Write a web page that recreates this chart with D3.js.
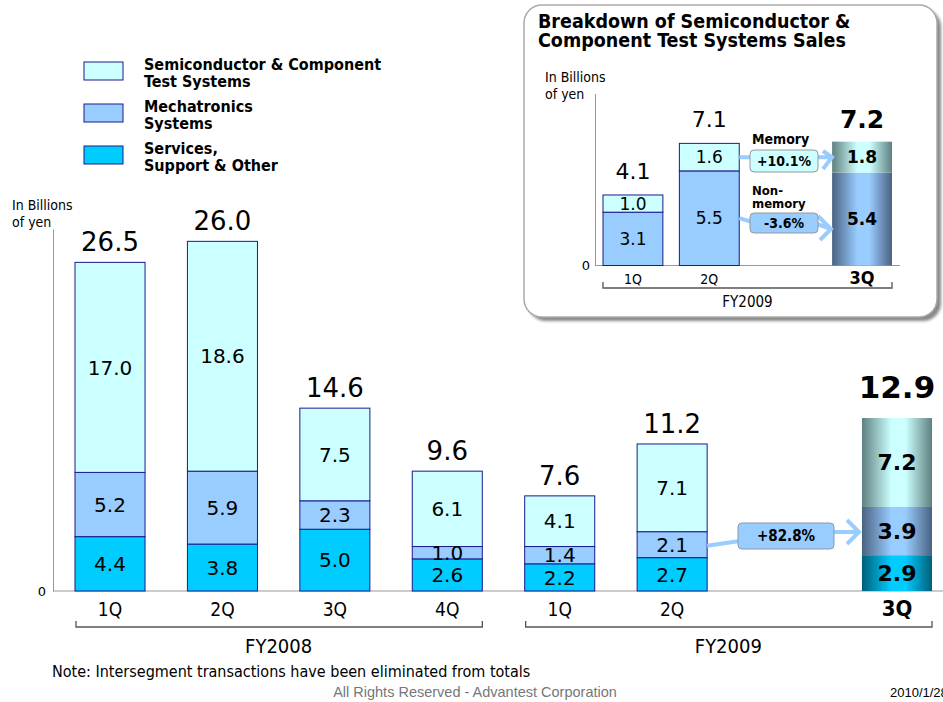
<!DOCTYPE html>
<meta charset="utf-8">
<style>
body { margin: 0; background: #fff; }
svg { display: block; }
text { font-family: "DejaVu Sans", sans-serif; fill: #000; }
.cond { font-family: "DejaVu Sans Condensed", "DejaVu Sans", sans-serif; font-stretch: condensed; }
.axis .domain { stroke: #999; }
</style>
<svg width="943" height="702"></svg>
<script src="https://d3js.org/d3.v7.min.js"></script>
<script>

// main chart data (billions of yen)
var quarters = ["FY08 1Q", "FY08 2Q", "FY08 3Q", "FY08 4Q", "FY09 1Q", "FY09 2Q", "gap", "FY09 3Q"];
var qLabels  = ["1Q", "2Q", "3Q", "4Q", "1Q", "2Q", "", "3Q"];
var services = [4.4, 3.8, 5.0, 2.6, 2.2, 2.7, null, 2.9];
var mecha    = [5.2, 5.9, 2.3, 1.0, 1.4, 2.1, null, 3.9];
var semi     = [17.0, 18.6, 7.5, 6.1, 4.1, 7.1, null, 7.2];
var totals   = [26.5, 26.0, 14.6, 9.6, 7.6, 11.2, null, 12.9];
var growth   = "+82.8%";

// inset data
var insetQ      = ["1Q", "2Q", "gap", "3Q"];
var nonMemory   = [3.1, 5.5, null, 5.4];
var memory      = [1.0, 1.6, null, 1.8];
var insetTotals = [4.1, 7.1, null, 7.2];
var memGrowth = "+10.1%", nonMemGrowth = "-3.6%";

var keys = ["services", "mecha", "semi"];
var fills = {services: "#00ccff", mecha: "#99ccff", semi: "#ccffff"};
var edges = {services: "#005f78", mecha: "#4a6282", semi: "#5f8080"};
var stroke = "#1a1a8c";

var svg = d3.select("svg");
var defs = svg.append("defs");
keys.forEach(function(k) {
  var g = defs.append("linearGradient").attr("id", "grad-" + k);
  g.append("stop").attr("offset", "0%").attr("stop-color", edges[k]);
  g.append("stop").attr("offset", "42%").attr("stop-color", fills[k]);
  g.append("stop").attr("offset", "62%").attr("stop-color", fills[k]);
  g.append("stop").attr("offset", "100%").attr("stop-color", edges[k]);
});
var shadow = defs.append("filter").attr("id", "blur").attr("x", "-5%").attr("y", "-5%").attr("width", "110%").attr("height", "110%");
shadow.append("feGaussianBlur").attr("stdDeviation", 1.5);

var rows = quarters.map(function(q, i) {
  return {q: q, label: qLabels[i], services: services[i] || 0, mecha: mecha[i] || 0, semi: semi[i] || 0, total: totals[i], last: q == "FY09 3Q"};
}).filter(function(d) { return d.q != "gap"; });

var x = d3.scaleBand().domain(quarters).range([75, 932]).paddingInner(0.377).paddingOuter(0);
var y = d3.scaleLinear().domain([0, 29.3]).range([591, 229]);

var g = svg.append("g");

// axes
g.append("g").attr("class", "axis").attr("transform", "translate(53,0)")
    .call(d3.axisLeft(y).tickValues([0]).tickSize(0).tickPadding(7))
    .call(function(a) { a.selectAll("text").attr("font-size", 13).attr("font-family", "DejaVu Sans"); });
g.append("line").attr("x1", 53).attr("x2", 943).attr("y1", y(0)).attr("y2", y(0)).attr("stroke", "#999");

var stack = d3.stack().keys(keys)(rows);

g.append("g").selectAll("g")
  .data(stack)
  .enter().append("g")
  .selectAll("rect")
  .data(function(s) { return s.map(function(d) { d.key = s.key; return d; }); })
  .enter().append("rect")
    .attr("x", function(d) { return x(d.data.q); })
    .attr("y", function(d) { return y(d[1]); })
    .attr("width", x.bandwidth())
    .attr("height", function(d) { return y(d[0]) - y(d[1]); })
    .attr("fill", function(d) { return d.data.last ? "url(#grad-" + d.key + ")" : fills[d.key]; })
    .attr("stroke", function(d) { return d.data.last ? "none" : stroke; })
    .attr("stroke-width", 1);

// segment values
g.append("g").selectAll("g")
  .data(stack)
  .enter().append("g")
  .selectAll("text")
  .data(function(s) { return s; })
  .enter().append("text")
    .attr("x", function(d) { return x(d.data.q) + x.bandwidth() / 2; })
    .attr("y", function(d) { return (y(d[0]) + y(d[1])) / 2; })
    .attr("dy", "0.36em")
    .attr("text-anchor", "middle")
    .attr("font-size", function(d) { return d.data.last ? 22 : 20; })
    .attr("font-weight", function(d) { return d.data.last ? "bold" : "normal"; })
    .text(function(d) { return (d[1] - d[0]).toFixed(1); });

// totals
g.append("g").selectAll("text")
  .data(rows)
  .enter().append("text")
    .attr("x", function(d) { return x(d.q) + x.bandwidth() / 2; })
    .attr("y", function(d) { return y(d.services + d.mecha + d.semi) - (d.last ? 20 : 11); })
    .attr("text-anchor", "middle")
    .attr("font-size", function(d) { return d.last ? 31 : 26; })
    .attr("font-weight", function(d) { return d.last ? "bold" : "normal"; })
    .text(function(d) { return d.total.toFixed(1); });

// quarter labels
g.append("g").selectAll("text")
  .data(rows)
  .enter().append("text")
    .attr("class", "cond")
    .attr("x", function(d) { return x(d.q) + x.bandwidth() / 2; })
    .attr("y", 616)
    .attr("text-anchor", "middle")
    .attr("font-size", function(d) { return d.last ? 22 : 19; })
    .attr("font-weight", function(d) { return d.last ? "bold" : "normal"; })
    .text(function(d) { return d.label; });

function bracket(sel, x0, x1, yy) {
  sel.append("path")
    .attr("d", "M" + x0 + "," + (yy - 6) + "V" + yy + "H" + x1 + "V" + (yy - 6))
    .attr("fill", "none").attr("stroke", "#555").attr("stroke-width", 1.3);
}
bracket(g, x("FY08 1Q") + 1, x("FY08 4Q") + x.bandwidth(), 627);
bracket(g, x("FY09 1Q") + 1, x("FY09 3Q") + x.bandwidth(), 627);
g.append("text").attr("class", "cond").attr("x", (x("FY08 1Q") + x("FY08 4Q") + x.bandwidth()) / 2).attr("y", 653)
  .attr("text-anchor", "middle").attr("font-size", 20).text("FY2008");
g.append("text").attr("class", "cond").attr("x", (x("FY09 1Q") + x("FY09 3Q") + x.bandwidth()) / 2).attr("y", 653)
  .attr("text-anchor", "middle").attr("font-size", 20).text("FY2009");

// growth arrow
var ay0 = (y(2.7) + y(2.7 + 2.1)) / 2, bx = x("FY09 2Q") + x.bandwidth();
g.append("path").attr("d", "M" + bx + "," + (ay0 + 1) + "L740,541M834,532H858M847,520L859,532L847,544")
  .attr("fill", "none").attr("stroke", "#99ccff").attr("stroke-width", 4);
g.append("rect").attr("x", 738).attr("y", 523).attr("width", 96).attr("height", 26).attr("rx", 4)
  .attr("fill", "#99ccff").attr("stroke", "#8a9ab0");
g.append("text").attr("class", "cond").attr("x", 786).attr("y", 536).attr("dy", "0.36em").attr("text-anchor", "middle")
  .attr("font-size", 15).attr("font-weight", "bold").text(growth);

// unit label
g.append("text").attr("class", "cond").attr("font-size", 14).attr("x", 12).attr("y", 210).text("In Billions");
g.append("text").attr("class", "cond").attr("font-size", 14).attr("x", 12).attr("y", 227).text("of yen");

// legend
var legendItems = [
  {key: "semi", lines: ["Semiconductor & Component", "Test Systems"], y: 62},
  {key: "mecha", lines: ["Mechatronics", "Systems"], y: 104},
  {key: "services", lines: ["Services,", "Support & Other"], y: 146}
];
var legend = g.append("g").selectAll("g").data(legendItems).enter().append("g");
legend.append("rect").attr("x", 84).attr("y", function(d) { return d.y; }).attr("width", 39).attr("height", 18)
  .attr("fill", function(d) { return fills[d.key]; }).attr("stroke", stroke);
legend.append("text").attr("class", "cond").attr("font-weight", "bold").attr("font-size", 16)
  .attr("x", 144).attr("y", function(d) { return d.y + 8; })
  .text(function(d) { return d.lines[0]; });
legend.append("text").attr("class", "cond").attr("font-weight", "bold").attr("font-size", 16)
  .attr("x", 144).attr("y", function(d) { return d.y + 25; })
  .text(function(d) { return d.lines[1]; });

// notes
g.append("text").attr("class", "cond").attr("x", 52).attr("y", 677).attr("font-size", 16)
  .text("Note: Intersegment transactions have been eliminated from totals");
g.append("text").attr("x", 475).attr("y", 697).attr("text-anchor", "middle").attr("font-size", 14.5)
  .style("font-family", "Liberation Sans Narrow, Liberation Sans").style("fill", "#777")
  .text("All Rights Reserved - Advantest Corporation");
g.append("text").attr("x", 890).attr("y", 697).attr("font-size", 13).style("font-family", "Liberation Sans")
  .text("2010/1/28");

// inset panel
var ins = svg.append("g");
ins.append("rect").attr("x", 528).attr("y", 9).attr("width", 413).attr("height", 312).attr("rx", 18)
  .attr("fill", "#888").attr("filter", "url(#blur)");
ins.append("rect").attr("x", 524).attr("y", 5).attr("width", 413).attr("height", 312).attr("rx", 18)
  .attr("fill", "#fff").attr("stroke", "#aaa").attr("stroke-width", 1.5);
ins.append("text").attr("class", "cond").attr("x", 538).attr("y", 28).attr("font-size", 19.5).attr("font-weight", "bold")
  .text("Breakdown of Semiconductor &");
ins.append("text").attr("class", "cond").attr("x", 538).attr("y", 47).attr("font-size", 19.5).attr("font-weight", "bold")
  .text("Component Test Systems Sales");
ins.append("text").attr("class", "cond").attr("font-size", 14).attr("x", 545).attr("y", 82).text("In Billions");
ins.append("text").attr("class", "cond").attr("font-size", 14).attr("x", 545).attr("y", 99).text("of yen");

var insetRows = insetQ.map(function(q, i) {
  return {q: q, nonMemory: nonMemory[i] || 0, memory: memory[i] || 0, total: insetTotals[i], last: q == "3Q"};
}).filter(function(d) { return d.q != "gap"; });

var xi = d3.scaleBand().domain(insetQ).range([603, 892]).paddingInner(0.216).paddingOuter(0);
var yi = d3.scaleLinear().domain([0, 10]).range([265.5, 93.5]);

ins.append("g").attr("class", "axis").attr("transform", "translate(595,0)")
  .call(d3.axisLeft(yi).tickValues([0]).tickSize(0).tickPadding(5))
  .call(function(a) { a.selectAll("text").attr("font-size", 13).attr("font-family", "DejaVu Sans"); });
ins.append("line").attr("x1", 595).attr("x2", 900).attr("y1", yi(0)).attr("y2", yi(0)).attr("stroke", "#999");

var ikeys = ["nonMemory", "memory"];
var ifill = {nonMemory: "#99ccff", memory: "#ccffff"};
var igrad = {nonMemory: "url(#grad-mecha)", memory: "url(#grad-semi)"};
var istack = d3.stack().keys(ikeys)(insetRows);

ins.append("g").selectAll("g")
  .data(istack)
  .enter().append("g")
  .selectAll("rect")
  .data(function(s) { return s.map(function(d) { d.key = s.key; return d; }); })
  .enter().append("rect")
    .attr("x", function(d) { return xi(d.data.q); })
    .attr("y", function(d) { return yi(d[1]); })
    .attr("width", xi.bandwidth())
    .attr("height", function(d) { return yi(d[0]) - yi(d[1]); })
    .attr("fill", function(d) { return d.data.last ? igrad[d.key] : ifill[d.key]; })
    .attr("stroke", function(d) { return d.data.last ? "none" : stroke; });

ins.append("g").selectAll("g")
  .data(istack)
  .enter().append("g")
  .selectAll("text")
  .data(function(s) { return s; })
  .enter().append("text")
    .attr("x", function(d) { return xi(d.data.q) + xi.bandwidth() / 2; })
    .attr("y", function(d) { return (yi(d[0]) + yi(d[1])) / 2; })
    .attr("dy", "0.36em")
    .attr("text-anchor", "middle")
    .attr("font-size", 17)
    .attr("font-weight", function(d) { return d.data.last ? "bold" : "normal"; })
    .text(function(d) { return (d[1] - d[0]).toFixed(1); });

ins.append("g").selectAll("text")
  .data(insetRows)
  .enter().append("text")
    .attr("x", function(d) { return xi(d.q) + xi.bandwidth() / 2; })
    .attr("y", function(d) { return yi(d.nonMemory + d.memory) - (d.last ? 14 : 16); })
    .attr("text-anchor", "middle")
    .attr("font-size", function(d) { return d.last ? 25 : 22; })
    .attr("font-weight", function(d) { return d.last ? "bold" : "normal"; })
    .text(function(d) { return d.total.toFixed(1); });

ins.append("g").selectAll("text")
  .data(insetRows)
  .enter().append("text")
    .attr("class", "cond")
    .attr("x", function(d) { return xi(d.q) + xi.bandwidth() / 2; })
    .attr("y", 284)
    .attr("text-anchor", "middle")
    .attr("font-size", function(d) { return d.last ? 18 : 14; })
    .attr("font-weight", function(d) { return d.last ? "bold" : "normal"; })
    .text(function(d) { return d.q; });

bracket(ins, xi("1Q"), xi("3Q") + xi.bandwidth(), 288);
ins.append("text").attr("class", "cond").attr("x", (xi("1Q") + xi("3Q") + xi.bandwidth()) / 2).attr("y", 307)
  .attr("text-anchor", "middle").attr("font-size", 15).text("FY2009");

// inset change arrows
var m2 = (yi(5.5) + yi(7.1)) / 2, n2 = (yi(0) + yi(5.5)) / 2;
var ax = xi("2Q") + xi.bandwidth();
ins.append("path").attr("d", "M" + ax + "," + m2 + "H752M817," + m2 + "H831M823,151L832," + m2 + "L823,169")
  .attr("fill", "none").attr("stroke", "#99ccff").attr("stroke-width", 4);
ins.append("path").attr("d", "M" + ax + "," + n2 + "L752,222M817,224L831,229M818,216L831,229L820,240")
  .attr("fill", "none").attr("stroke", "#99ccff").attr("stroke-width", 4);
ins.append("rect").attr("x", 750).attr("y", 150).attr("width", 68).attr("height", 22).attr("rx", 4)
  .attr("fill", "#ccffff").attr("stroke", "#999");
ins.append("rect").attr("x", 750).attr("y", 213).attr("width", 68).attr("height", 20).attr("rx", 4)
  .attr("fill", "#99ccff").attr("stroke", "#999");
ins.append("text").attr("class", "cond").attr("x", 784).attr("y", 161).attr("dy", "0.36em").attr("text-anchor", "middle")
  .attr("font-size", 14).attr("font-weight", "bold").text(memGrowth);
ins.append("text").attr("class", "cond").attr("x", 784).attr("y", 223).attr("dy", "0.36em").attr("text-anchor", "middle")
  .attr("font-size", 14).attr("font-weight", "bold").text(nonMemGrowth);
ins.append("text").attr("class", "cond").attr("x", 752).attr("y", 144).attr("font-size", 14).attr("font-weight", "bold").text("Memory");
ins.append("text").attr("class", "cond").attr("x", 752).attr("y", 195).attr("font-size", 13).attr("font-weight", "bold").text("Non-");
ins.append("text").attr("class", "cond").attr("x", 752).attr("y", 208).attr("font-size", 13).attr("font-weight", "bold").text("memory");

</script>
